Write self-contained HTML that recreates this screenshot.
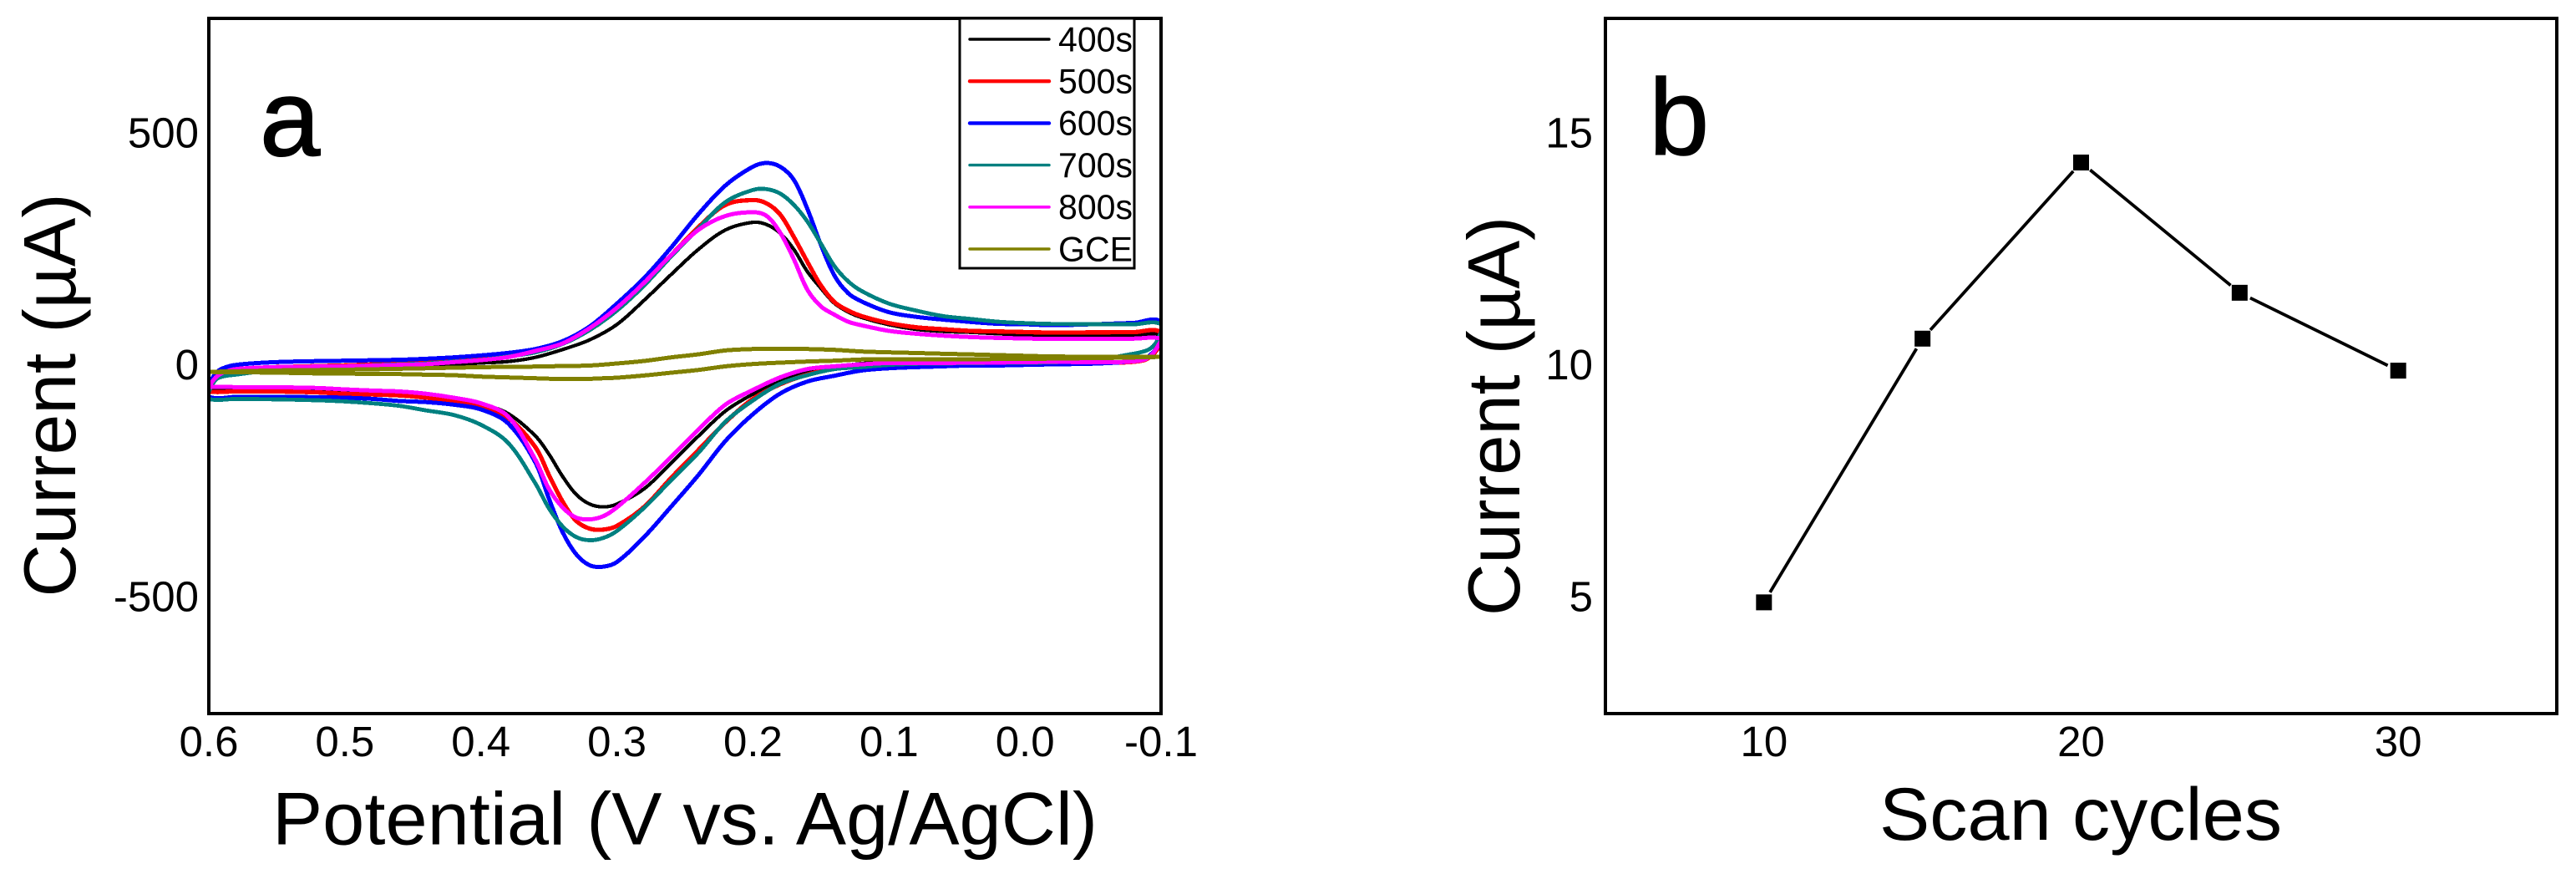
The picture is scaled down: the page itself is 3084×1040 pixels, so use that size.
<!DOCTYPE html>
<html lang="en">
<head>
<meta charset="utf-8">
<title>CV curves and scan cycles chart</title>
<style>
html,body{margin:0;padding:0;background:#fff;}
svg{display:block;}
text{font-family:"Liberation Sans",Arial,sans-serif;fill:#000;}
</style>
</head>
<body>
<svg id="chart" xmlns="http://www.w3.org/2000/svg" width="3084" height="1040" viewBox="0 0 3084 1040">
  <defs>
    <clipPath id="clip-a"><rect x="250" y="22" width="1140" height="832"/></clipPath>
  </defs>
  <rect x="0" y="0" width="3084" height="1040" fill="#fff"/>
  <g id="panel-a">
    <g id="curves" clip-path="url(#clip-a)"></g>
    <rect x="250" y="22" width="1140" height="832" fill="none" stroke="#000" stroke-width="4"/>
    <g id="ticks-a"></g>
    <text x="311" y="186" font-size="130" stroke="#000" stroke-width="1.5">a</text>
    <text transform="translate(90,473) rotate(-90)" text-anchor="middle" font-size="88" textLength="483" lengthAdjust="spacingAndGlyphs">Current (µA)</text>
    <text x="326" y="1010.5" font-size="89" textLength="988" lengthAdjust="spacingAndGlyphs">Potential (V vs. Ag/AgCl)</text>
    <g id="legend">
      <rect x="1149" y="22" width="209" height="299" fill="#fff" stroke="#000" stroke-width="3"/>
    </g>
  </g>
  <g id="panel-b">
    <g id="marks-b"></g>
    <rect x="1922" y="22" width="1139" height="832" fill="none" stroke="#000" stroke-width="4"/>
    <g id="ticks-b"></g>
    <text x="1974" y="185" font-size="130" stroke="#000" stroke-width="1">b</text>
    <text transform="translate(1819,498) rotate(-90)" text-anchor="middle" font-size="88" textLength="478" lengthAdjust="spacingAndGlyphs">Current (µA)</text>
    <text x="2250" y="1005" font-size="89" textLength="482" lengthAdjust="spacingAndGlyphs">Scan cycles</text>
  </g>
</svg>
<script>
const upperE = [0.6,0.595,0.59,0.58,0.55,0.5,0.46,0.44,0.42,0.4,0.38,0.36,0.34,0.32,0.3,0.28,0.26,0.24,0.22,0.2,0.19,0.18,0.17,0.16,0.15,0.14,0.13,0.12,0.1,0.08,0.06,0.04,0.02,0,-0.02,-0.05,-0.08,-0.1];
const lowerE = [-0.1,-0.098,-0.094,-0.088,-0.075,-0.05,-0.02,0,0.02,0.04,0.06,0.08,0.1,0.12,0.14,0.16,0.18,0.2,0.22,0.24,0.26,0.28,0.3,0.31,0.32,0.33,0.34,0.35,0.36,0.38,0.4,0.42,0.44,0.46,0.48,0.5,0.52,0.55,0.58,0.6];

const upper400 = [-40,-22,-14,-9,-4,-2,1,2.4,3.5,6.5,9.6,18.6,35.4,56.4,89.5,141.8,197.7,251.8,293.8,310,305.2,286.6,251.8,203.7,167.6,135,116.5,104.5,89,79,74.5,72.6,69.6,67,65.4,66,66,66];
const lower400 = [66,40,28,15,9,7,7,7,7,7,7,7,7,5.3,-2.5,-12.6,-33.6,-60.7,-96.7,-151,-209,-265,-298,-304,-298,-277,-238,-190,-150.8,-102.7,-81.7,-74.5,-68.5,-63,-60,-56.5,-54,-53,-51.7,-52];

const upper500 = [-45,-25,-12,-6.6,-2.4,1.2,5.4,8.5,11.3,15.6,23.4,35.4,49.2,80.5,125.5,182.6,239.7,299.8,347.9,358,350.9,326.9,278.8,224.7,173.6,137.6,119.5,107.5,92.5,83.5,79.3,75.7,74.5,73.2,72,72.5,73,73];
const lower500 = [73,40,25,13,8,7,7,6.5,6,5,4,3.5,3.5,0.5,-4.9,-18.6,-39.6,-70.9,-120.8,-181,-241,-304,-345,-353,-351,-334,-292,-235,-174.9,-111.8,-86.5,-75.7,-68.5,-63.5,-61.5,-60,-57,-55,-54.7,-55];

const upper600 = [-40,-16,-5.4,2.4,8.4,11.4,13.4,15.6,18.6,22.8,28.2,36.6,53.4,85.3,134.6,189.9,256,328,390,430,438,430,402,339,261,194.6,157,139,116,106,100,95,91,90,88,90,93,95];
const lower600 = [95,45,29,16,9,5,3.5,2.3,1.1,1.1,-0.7,-2.5,-4.9,-9.7,-21,-33.6,-59.5,-104,-161,-235,-303,-369,-423,-433,-430,-406,-358,-286,-207.9,-123.8,-93.7,-83.5,-78,-75.5,-70.9,-68.5,-67.3,-66.7,-66.7,-66];

const upper700 = [-55,-30,-22.8,-18.6,-8,-0.6,3.6,5.4,9.6,13.2,20.4,29.4,47.4,77.4,119.5,173.6,236.7,296.8,354,379.8,381.6,372,348,311.8,263.8,215,182.6,161.6,134.6,119.5,107.5,101.5,95.5,92.5,90.7,90,90,90];
const lower700 = [90,60,42,32,24,12,8,7,7,6,5.5,4.7,2.3,-2.5,-6.7,-19.8,-38.4,-74.5,-119.6,-187,-246,-306,-356,-371,-376,-369,-346,-307,-253,-165.8,-126.8,-105.7,-96,-86,-80.5,-76.5,-74,-72,-71,-71];

const upper800 = [-45,-25,-15,-6.6,-2.4,-0.6,2.4,4,8.3,12.6,19.2,32.4,48.6,81.7,125.5,179.6,239.7,293.8,323.9,331.7,323.9,287.8,230.7,164.6,128.5,110.5,95.5,87.7,75.7,69.6,65.4,62.4,60.6,59.4,58.2,58.5,59,59];
const lower800 = [59,45,27,14,9,8,9,8,7.5,7.1,6.5,6.5,6.5,3.5,-0.7,-6.6,-24.6,-51.7,-82.9,-137,-196,-253,-305,-324,-331,-327,-305,-265,-201.9,-108.7,-80.5,-68.5,-60,-55,-53,-50.5,-47.5,-46,-45.6,-45];

const upperGCE = [-13,-12.5,-12,-11.5,-9.6,-8,-6,-4.9,-3.7,-2.5,-1.9,-1.3,-0.1,1,5.4,10.8,18.6,25.2,33.6,36.6,37,37.2,37,36.6,35.8,34.8,33,31.2,29.4,28,26.4,25,23.4,22,20.4,20,20,20];
const lowerGCE = [20,20,19,19,18,17,16,15,15,14.5,14.4,14.4,14.4,14,11.4,9.6,7.2,4.2,-0.7,-8.5,-14.5,-20.5,-25.3,-26.5,-27.7,-27.7,-27.7,-27.5,-26.5,-24.7,-22.9,-19.9,-18.7,-17.5,-17,-16.5,-16,-14.4,-13.5,-13];

const xTicksA = [0.6,0.5,0.4,0.3,0.2,0.1,0.0,-0.1];
const yTicksA = [500,0,-500];

const cycles = [10,15,20,25,30];
const currents = [4.9,10.59,14.39,11.58,9.9];
const xTicksB = [10,20,30];
const yTicksB = [15,10,5];

const SVGNS = 'http://www.w3.org/2000/svg';
function xA(e){ return 250 + (0.6 - e) * (1140 / 0.7); }
function yA(i){ return 438 - i * (416 / 750); }
function xB(v){ return 1922 + (v - 5) * (1139 / 30); }
function yB(v){ return 854 - (v - 2.5) * (832 / 15); }

function tangent(pts, k){
  const a = pts[Math.max(0, k - 1)], b = pts[Math.min(pts.length - 1, k + 1)];
  const dx = b[0] - a[0], dy = b[1] - a[1];
  const n = Math.hypot(dx, dy) || 1;
  return [dx / n, dy / n];
}

function smoothPath(pts){
  let d = 'M' + pts[0][0].toFixed(2) + ' ' + pts[0][1].toFixed(2);
  for (let k = 0; k < pts.length - 1; k++){
    const p1 = pts[k], p2 = pts[k + 1];
    const h = Math.hypot(p2[0] - p1[0], p2[1] - p1[1]) / 3;
    const t1 = tangent(pts, k), t2 = tangent(pts, k + 1);
    const c1x = p1[0] + t1[0] * h, c1y = p1[1] + t1[1] * h;
    const c2x = p2[0] - t2[0] * h, c2y = p2[1] - t2[1] * h;
    d += 'C' + c1x.toFixed(2) + ' ' + c1y.toFixed(2) + ' ' + c2x.toFixed(2) + ' ' + c2y.toFixed(2) + ' ' + p2[0].toFixed(2) + ' ' + p2[1].toFixed(2);
  }
  return d;
}

function drawCurve(name, upper, lower, color, width){
  const pts = [];
  upper.forEach(function(v, i){ pts.push([xA(upperE[i]), yA(v)]); });
  lower.forEach(function(v, i){ if (i > 0) pts.push([xA(lowerE[i]), yA(v)]); });
  pts.push(pts[0]);
  const el = document.createElementNS(SVGNS, 'path');
  
  
  el.setAttribute('d', smoothPath(pts));
  el.setAttribute('fill', 'none');
  el.setAttribute('stroke', color);
  el.setAttribute('stroke-width', width);
  el.setAttribute('stroke-linejoin', 'round');
  el.setAttribute('shape-rendering', 'crispEdges');
  document.getElementById('curves').appendChild(el);
}

function drawLegend(index, label, color, width){
  const rowY = 47 + index * 50.2;
  const line = document.createElementNS(SVGNS, 'line');
  
  
  line.setAttribute('x1', 1161);
  line.setAttribute('x2', 1256);
  line.setAttribute('y1', rowY);
  line.setAttribute('y2', rowY);
  line.setAttribute('stroke', color);
  line.setAttribute('stroke-width', width);
  line.setAttribute('stroke-linecap', 'round');
  document.getElementById('legend').appendChild(line);
  const t = document.createElementNS(SVGNS, 'text');
  
  
  t.setAttribute('x', 1267);
  t.setAttribute('y', rowY + 14.3);
  t.setAttribute('font-size', 42);
  t.setAttribute('textLength', 89);
  t.setAttribute('lengthAdjust', 'spacingAndGlyphs');
  t.textContent = label;
  document.getElementById('legend').appendChild(t);
}

function addTick(groupId, name, x, y, anchor, label){
  const t = document.createElementNS(SVGNS, 'text');
  
  
  t.setAttribute('x', x);
  t.setAttribute('y', y);
  t.setAttribute('text-anchor', anchor);
  t.setAttribute('font-size', 51);
  t.textContent = label;
  document.getElementById(groupId).appendChild(t);
}

drawCurve('400s', upper400, lower400, '#000000', 4.2);
drawCurve('500s', upper500, lower500, '#ff0000', 5.2);
drawCurve('600s', upper600, lower600, '#0000ff', 5);
drawCurve('700s', upper700, lower700, '#008080', 4.8);
drawCurve('800s', upper800, lower800, '#ff00ff', 5);
drawCurve('gce', upperGCE, lowerGCE, '#808000', 5);

drawLegend(0, '400s', '#000000', 3.4);
drawLegend(1, '500s', '#ff0000', 4.4);
drawLegend(2, '600s', '#0000ff', 4.4);
drawLegend(3, '700s', '#008080', 3.4);
drawLegend(4, '800s', '#ff00ff', 3.6);
drawLegend(5, 'GCE', '#808000', 3.4);

xTicksA.forEach(function(v){
  addTick('ticks-a', 'x-tick-a-' + v.toFixed(1), xA(v), 905, 'middle', v.toFixed(1));
});
yTicksA.forEach(function(v){
  addTick('ticks-a', 'y-tick-a-' + v, 238, yA(v) + 16, 'end', String(v));
});
xTicksB.forEach(function(v){
  addTick('ticks-b', 'x-tick-b-' + v, xB(v), 905, 'middle', String(v));
});
yTicksB.forEach(function(v){
  addTick('ticks-b', 'y-tick-b-' + v, 1907, yB(v) + 16, 'end', String(v));
});

const marksB = document.getElementById('marks-b');
for (let i = 0; i < cycles.length - 1; i++){
  const ax = xB(cycles[i]), ay = yB(currents[i]), bx = xB(cycles[i + 1]), by = yB(currents[i + 1]);
  const len = Math.hypot(bx - ax, by - ay), gap = 14;
  const ux = (bx - ax) / len, uy = (by - ay) / len;
  const seg = document.createElementNS(SVGNS, 'line');
  
  
  seg.setAttribute('x1', ax + ux * gap);
  seg.setAttribute('y1', ay + uy * gap);
  seg.setAttribute('x2', bx - ux * gap);
  seg.setAttribute('y2', by - uy * gap);
  seg.setAttribute('stroke', '#000');
  seg.setAttribute('stroke-width', 3.8);
  marksB.appendChild(seg);
}
cycles.forEach(function(c, i){
  const m = document.createElementNS(SVGNS, 'rect');
  
  
  m.setAttribute('x', xB(c) - 9.5);
  m.setAttribute('y', yB(currents[i]) - 9.5);
  m.setAttribute('width', 19);
  m.setAttribute('height', 19);
  m.setAttribute('fill', '#000');
  marksB.appendChild(m);
});
</script>
</body>
</html>
